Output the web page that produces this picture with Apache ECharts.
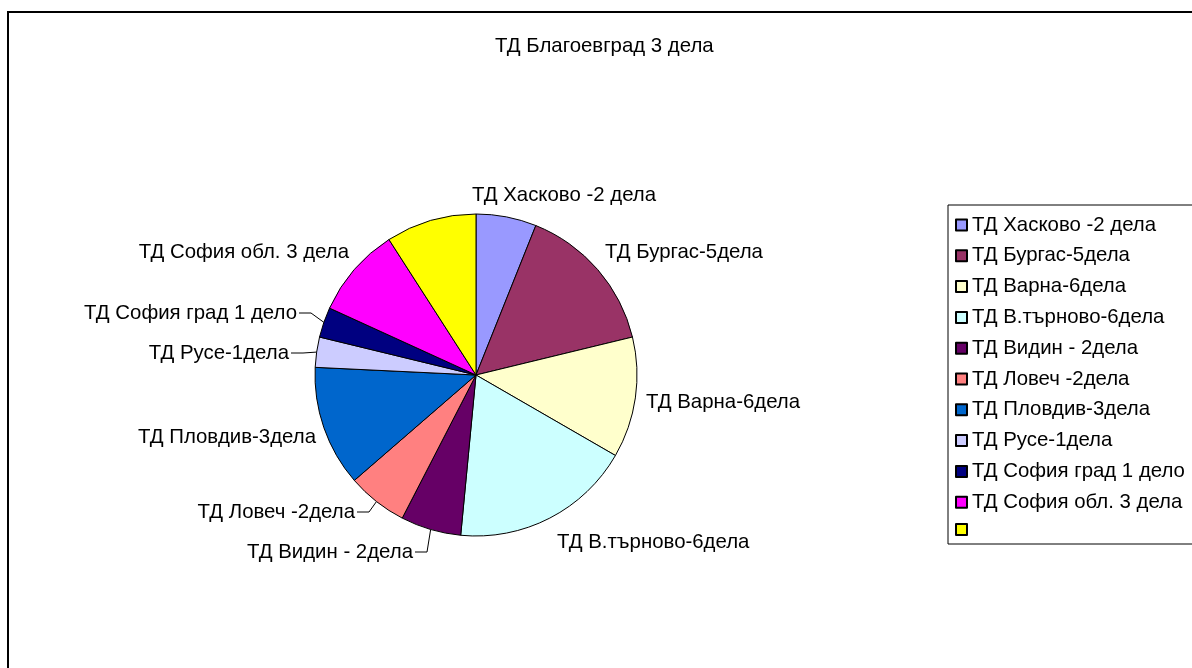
<!DOCTYPE html>
<html>
<head>
<meta charset="utf-8">
<script src="https://cdn.jsdelivr.net/npm/echarts@6/dist/echarts.min.js"></script>
<style>
  html, body { margin: 0; padding: 0; background: #fff; }
  #chart { width: 1192px; height: 668px; }
</style>
</head>
<body>
<div id="chart"></div>
<script>
// slices, clockwise from 12 o'clock
let names = [
  "ТД Хасково -2 дела",
  "ТД Бургас-5дела",
  "ТД Варна-6дела",
  "ТД В.търново-6дела",
  "ТД Видин - 2дела",
  "ТД Ловеч -2дела",
  "ТД Пловдив-3дела",
  "ТД Русе-1дела",
  "ТД София град 1 дело",
  "ТД София обл. 3 дела",
  "ТД Благоевград 3 дела"
];
let values = [2, 5, 4, 6, 2, 2, 4, 1, 1, 3, 3];
// the last slice has no legend text
let legendTexts = names.slice(0, 10).concat([""]);

let colors = ["#9999FF", "#993366", "#FFFFCC", "#CCFFFF", "#660066", "#FF8080",
  "#0066CC", "#CCCCFF", "#000080", "#FF00FF", "#FFFF00"];

// label placement relative to pie centre: [dx, dy, align, leader line]
let labelSpots = [
  [88, -180, "center", false],
  [129, -123, "left", false],
  [170, 27, "left", false],
  [81, 167, "left", false],
  [-63, 177, "right", true],
  [-121, 137, "right", true],
  [-160, 62, "right", false],
  [-187, -22, "right", true],
  [-179, -62, "right", true],
  [-127, -123, "right", false],
  null
];

let cx = 476, cy = 375, R = 161;
let total = values.reduce((a, b) => a + b, 0);
let midAngles = [];
let acc = 0;
values.forEach(v => {
  midAngles.push((acc + v / 2) / total * Math.PI * 2);
  acc += v;
});

let font = "'Liberation Sans', Arial, sans-serif";
let fs = 20.4;

let chart = echarts.init(document.getElementById("chart"));
chart.setOption({
  animation: false,
  backgroundColor: "#fff",
  textStyle: { fontFamily: font },
  title: {
    text: names[10],
    left: 495,
    top: 36,
    padding: 0,
    textStyle: { fontSize: fs, fontWeight: "normal", color: "#000", fontFamily: font }
  },
  graphic: [{
    type: "rect",
    z: -10,
    shape: { x: 8, y: 12, width: 1400, height: 900 },
    style: { fill: "none", stroke: "#000", lineWidth: 2 }
  }],
  legend: {
    orient: "vertical",
    left: 948,
    top: 205,
    padding: [10, 30, 8, 7],
    itemWidth: 11,
    itemHeight: 11,
    itemGap: 10.8,
    icon: "rect",
    borderColor: "#000",
    borderWidth: 1,
    data: names,
    formatter: name => legendTexts[names.indexOf(name)],
    textStyle: { fontSize: fs, lineHeight: 20, color: "#000", fontFamily: font }
  },
  series: [{
    type: "pie",
    center: [cx, cy],
    radius: R,
    startAngle: 90,
    clockwise: true,
    avoidLabelOverlap: false,
    itemStyle: { borderColor: "#000", borderWidth: 1 },
    emphasis: { disabled: true },
    label: {
      show: true,
      position: "outside",
      fontSize: fs,
      color: "#000",
      fontFamily: font
    },
    labelLine: { lineStyle: { color: "#000", width: 1 } },
    data: names.map((n, i) => ({
      name: n,
      value: values[i],
      itemStyle: { color: colors[i] },
      label: { show: labelSpots[i] != null },
      labelLine: { show: !!(labelSpots[i] && labelSpots[i][3]) }
    })),
    labelLayout: function (params) {
      let s = labelSpots[params.dataIndex];
      if (!s) return {};
      let x = cx + s[0], y = cy + s[1];
      let out = { x: x, y: y, align: s[2], verticalAlign: "middle" };
      if (s[3]) {
        let a = midAngles[params.dataIndex];
        let rim = [cx + R * Math.sin(a), cy - R * Math.cos(a)];
        let side = s[2] === "right" ? 1 : -1;
        out.labelLinePoints = [rim, [x + side * 14, y], [x + side * 2, y]];
      }
      return out;
    }
  }]
});
</script>
</body>
</html>
